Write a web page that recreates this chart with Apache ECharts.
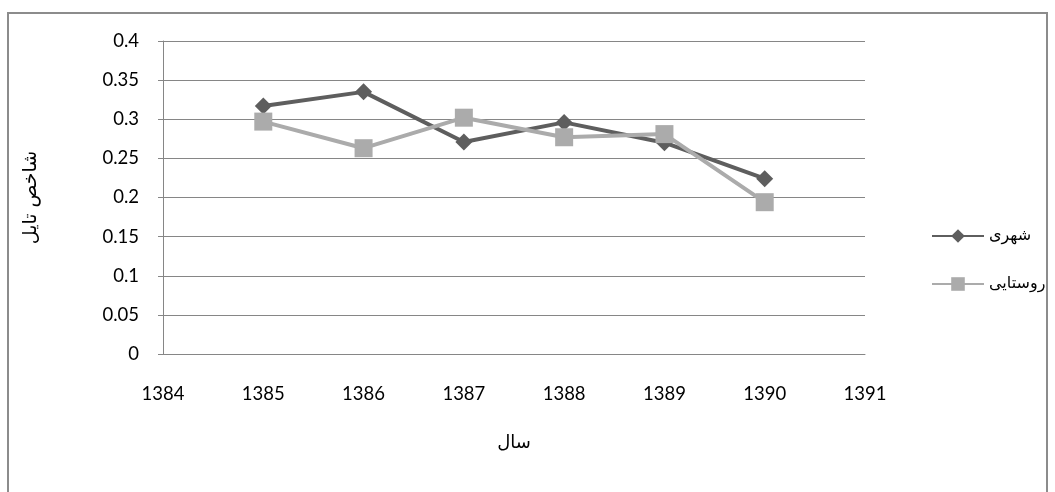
<!DOCTYPE html>
<html><head><meta charset="utf-8">
<script src="https://cdn.jsdelivr.net/npm/echarts@6/dist/echarts.min.js"></script>
<style>
html,body{margin:0;padding:0;background:#fff;width:1055px;height:492px;overflow:hidden;}
#frame{position:absolute;left:7px;top:12px;width:1041px;height:500px;border:2px solid #8c8c8c;box-sizing:border-box;}
#c{position:absolute;left:0;top:0;width:1055px;height:492px;}
</style></head><body>
<div id="frame"></div>
<div id="c"></div>
<script>
const years = [1385, 1386, 1387, 1388, 1389, 1390];
const urban = [0.317, 0.335, 0.271, 0.296, 0.270, 0.224];
const rural = [0.297, 0.263, 0.302, 0.277, 0.281, 0.194];
const seriesNames = ['شهری', 'روستایی'];
const xTitle = 'سال';
const yTitle = 'شاخص تایل';

const chart = echarts.init(document.getElementById('c'));
const font = 'Lato, "DejaVu Sans", sans-serif';
chart.setOption({
  animation: false,
  grid: {left: 163, top: 41, width: 702, height: 313},
  legend: {
    orient: 'vertical', left: 926, top: 223, itemGap: 32,
    itemWidth: 52, itemHeight: 17, align: 'left',
    textStyle: {fontFamily: '"DejaVu Sans", sans-serif', fontSize: 16, color: '#000'},
    data: seriesNames
  },
  xAxis: {
    type: 'value', min: 1384, max: 1391, interval: 1,
    name: xTitle, nameLocation: 'middle', nameGap: 80,
    nameTextStyle: {fontFamily: '"DejaVu Sans", sans-serif', fontSize: 18, color: '#000'},
    axisLine: {lineStyle: {color: '#868686', width: 1}},
    axisTick: {show: false},
    splitLine: {show: false},
    axisLabel: {color: '#000', fontSize: 18.5, fontFamily: font, margin: 31, formatter: v => String(v)}
  },
  yAxis: {
    type: 'value', min: 0, max: 0.4, interval: 0.05,
    name: yTitle, nameLocation: 'middle', nameGap: 122, nameRotate: 90,
    nameTextStyle: {fontFamily: '"DejaVu Sans", sans-serif', fontSize: 19, color: '#000'},
    axisLine: {show: true, lineStyle: {color: '#868686', width: 1}},
    axisTick: {show: true, inside: false, length: 5, lineStyle: {color: '#868686'}},
    splitLine: {lineStyle: {color: '#868686', width: 1}},
    axisLabel: {color: '#000', fontSize: 18.5, fontFamily: font, margin: 24,
      formatter: v => String(Math.round(v*100)/100)}
  },
  series: [
    {name: seriesNames[0], type: 'line', data: years.map((y,i)=>[y, urban[i]]),
     symbol: 'diamond', symbolSize: 17, color: '#5e5e5e',
     lineStyle: {width: 4, color: '#5e5e5e'}, itemStyle: {color: '#5e5e5e'}},
    {name: seriesNames[1], type: 'line', data: years.map((y,i)=>[y, rural[i]]),
     symbol: 'rect', symbolSize: 18, color: '#ababab',
     lineStyle: {width: 4, color: '#ababab'}, itemStyle: {color: '#ababab'}}
  ]
});
</script>
</body></html>
